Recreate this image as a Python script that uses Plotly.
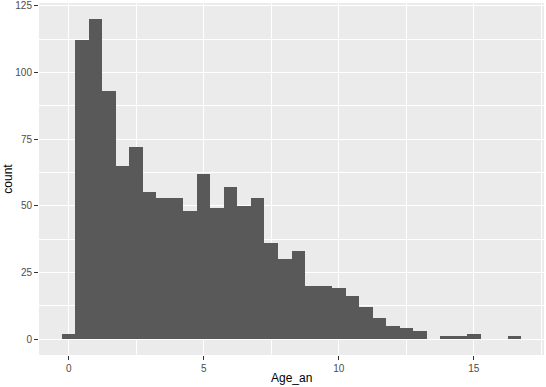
import plotly.graph_objects as go

# bin centres (binwidth 0.5) and counts
bin_centers = [0, 0.5, 1, 1.5, 2, 2.5, 3, 3.5, 4, 4.5, 5, 5.5, 6, 6.5, 7, 7.5, 8, 8.5,
               9, 9.5, 10, 10.5, 11, 11.5, 12, 12.5, 13, 13.5, 14, 14.5, 15, 15.5, 16, 16.5]
counts = [2, 112, 120, 93, 65, 72, 55, 53, 53, 48, 62, 49, 57, 50, 53, 36, 30, 33,
          20, 20, 19, 16, 12, 8, 5, 4, 3, 0, 1, 1, 2, 0, 0, 1]
x_ticks = [0, 5, 10, 15]
y_ticks = [0, 25, 50, 75, 100, 125]

fig = go.Figure(go.Bar(
    x=bin_centers, y=counts, width=0.5,
    marker=dict(color="#595959", line=dict(width=0)),
    hoverinfo="x+y",
))

fig.update_layout(
    width=546, height=387,
    margin=dict(l=39, r=2, t=3, b=32, autoexpand=False),
    paper_bgcolor="white",
    plot_bgcolor="#EBEBEB",
    bargap=0,
    showlegend=False,
    font=dict(family="Liberation Sans, Arial, sans-serif", color="#4D4D4D", size=10),
    annotations=[
        dict(text="Age_an", xref="paper", yref="paper", x=0.5, y=-0.065,
             xanchor="center", yanchor="middle", showarrow=False,
             font=dict(size=12, color="black")),
        dict(text="count", xref="paper", yref="paper", x=-0.062, y=0.5, textangle=-90,
             xanchor="center", yanchor="middle", showarrow=False,
             font=dict(size=12, color="black")),
    ],
)

fig.update_xaxes(
    range=[-1.1, 17.6],
    tickvals=x_ticks,
    automargin=False,
    showgrid=True, gridcolor="white", gridwidth=1.1,
    minor=dict(tickvals=[2.5, 7.5, 12.5, 17.5], showgrid=True, gridcolor="white", gridwidth=0.5, ticks=""),
    zeroline=False, showline=False,
    ticks="outside", ticklen=4, tickcolor="#333333", tickwidth=1,
    tickfont=dict(size=10, color="#4D4D4D"),
)
fig.update_yaxes(
    range=[-6, 126],
    tickvals=y_ticks,
    automargin=False,
    showgrid=True, gridcolor="white", gridwidth=1.1,
    minor=dict(tickvals=[12.5, 37.5, 62.5, 87.5, 112.5], showgrid=True, gridcolor="white", gridwidth=0.5, ticks=""),
    zeroline=False, showline=False,
    ticks="outside", ticklen=4, tickcolor="#333333", tickwidth=1,
    tickfont=dict(size=10, color="#4D4D4D"),
)

fig.write_html("out.html", config={"displayModeBar": False},
               post_script="document.body.style.margin='0';")
